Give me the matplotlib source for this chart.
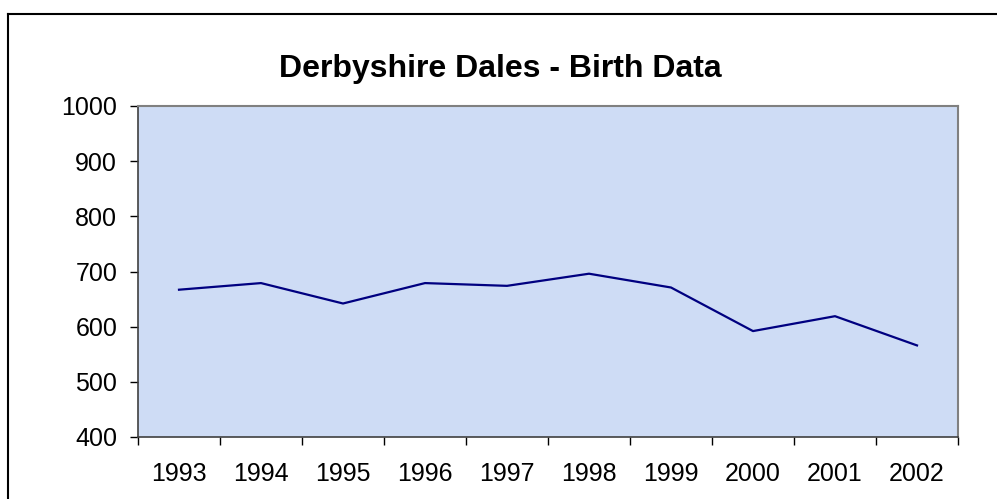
import matplotlib.pyplot as plt

years = ['1993', '1994', '1995', '1996', '1997', '1998', '1999', '2000', '2001', '2002']
births = [667, 679, 642, 679, 674, 696, 671, 592, 619, 566]
y_ticks = [400, 500, 600, 700, 800, 900, 1000]

plt.rcParams['font.family'] = ['Liberation Sans', 'DejaVu Sans']

fig = plt.figure(figsize=(9.97, 4.99), dpi=100)
ax = fig.add_axes([138/997, 62/499, 820/997, 331/499])

# outer chart border (only left and top are visible in the picture)
fig.add_artist(plt.Line2D([8/997, 8/997], [0, 1 - 14/499], transform=fig.transFigure,
                          color='black', lw=1.5))
fig.add_artist(plt.Line2D([8/997, 1.0], [1 - 14/499, 1 - 14/499], transform=fig.transFigure,
                          color='black', lw=1.5))

ax.set_facecolor('#cedcf5')
x = list(range(len(years)))
ax.plot(x, births, color='#000080', lw=1.6)

ax.set_xlim(-0.5, len(years) - 0.5)
ax.set_ylim(400, 1000)
ax.set_yticks(y_ticks)
ax.set_xticks(x)
ax.set_xticklabels(years)
ax.set_xticks([i - 0.5 for i in range(len(years) + 1)], minor=True)

ax.tick_params(axis='x', which='major', length=0, pad=18, labelsize=18)
ax.tick_params(axis='x', which='minor', length=6, width=1, direction='out')
ax.tick_params(axis='y', length=6, width=1, pad=9, labelsize=18)

for s in ['top', 'right']:
    ax.spines[s].set_color('#808080')
    ax.spines[s].set_linewidth(1.5)
for s in ['left', 'bottom']:
    ax.spines[s].set_color('#404040')
    ax.spines[s].set_linewidth(1.2)

fig.text(0.502, 1 - 69/499, 'Derbyshire Dales - Birth Data', ha='center', va='center',
         fontsize=23, fontweight='bold')

plt.savefig('out.png', dpi=100)
